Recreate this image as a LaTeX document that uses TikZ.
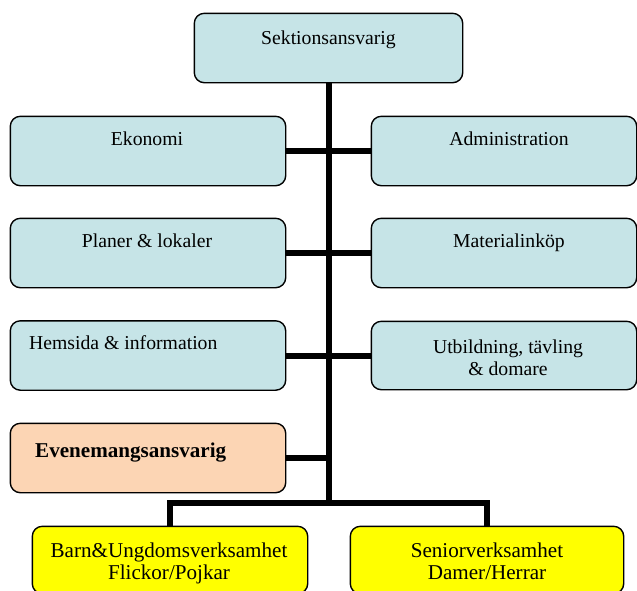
\documentclass[tikz,border=0pt]{standalone}
\usepackage{fontspec}
\setmainfont{Liberation Serif}
\definecolor{boxblue}{RGB}{198,228,231}
\definecolor{peach}{RGB}{252,213,180}
\definecolor{yel}{RGB}{255,255,0}
\begin{document}
\begin{tikzpicture}[x=1pt,y=-1pt,
  box/.style={draw=black,line width=1.4pt,rounded corners=10pt,inner sep=0pt,fill=boxblue},
  txt/.style={font=\fontsize{19.7}{23}\selectfont,inner sep=0pt,anchor=base},
  bigtxt/.style={txt,font=\fontsize{21.1}{25}\selectfont},
  conn/.style={draw=black,line width=6pt}]
\useasboundingbox (0,0) rectangle (637,590);
% boxes
\node[box,minimum width=267pt,minimum height=68pt] (sek) at (328.5,48) {};
\node[box,minimum width=274pt,minimum height=68pt] (ek) at (148,151) {};
\node[box,minimum width=264pt,minimum height=68pt] (adm) at (504,151) {};
\node[box,minimum width=274pt,minimum height=68pt] (pl) at (148,253) {};
\node[box,minimum width=264pt,minimum height=68pt] (mat) at (504,253) {};
\node[box,minimum width=274pt,minimum height=68pt] (hem) at (148,355.5) {};
\node[box,minimum width=264pt,minimum height=67pt] (utb) at (504,355.5) {};
\node[box,fill=peach,minimum width=274pt,minimum height=68pt] (eve) at (148,458) {};
\node[box,fill=yel,minimum width=274pt,minimum height=66pt] (barn) at (170,560) {};
\node[box,fill=yel,minimum width=272pt,minimum height=66pt] (sen) at (487,560) {};
\coordinate (tb) at (328.5,503);
% connectors
\draw[conn] (sek.south) -- (tb);
\draw[conn] (ek.east) -- (adm.west);
\draw[conn] (pl.east) -- (mat.west);
\draw[conn] (hem.east) -- (utb.west);
\draw[conn] (eve.east) -- (eve.east -| tb);
\draw[conn] (barn.north) |- (tb) -| (sen.north);
% redraw boxes over connector ends
\foreach \n in {sek,ek,adm,pl,mat,hem,utb}{
  \draw[line width=1.4pt,rounded corners=10pt,fill=boxblue] (\n.north west) rectangle (\n.south east);
}
\draw[line width=1.4pt,rounded corners=10pt,fill=peach] (eve.north west) rectangle (eve.south east);
\draw[line width=1.4pt,rounded corners=10pt,fill=yel] (barn.north west) rectangle (barn.south east);
\draw[line width=1.4pt,rounded corners=10pt,fill=yel] (sen.north west) rectangle (sen.south east);
% texts
\node[txt] (tsek) at (328.5,44) {Sektionsansvarig};
\node[txt] (tek) at (147,145) {Ekonomi};
\node[txt] (tadm) at (509,145) {Administration};
\node[txt] (tpl) at (147,247) {Planer \& lokaler};
\node[txt] (tmat) at (509,247) {Materialinköp};
\node[txt,anchor=base west] (them) at (29,349) {Hemsida \& information};
\node[txt] (tutb1) at (508,353) {Utbildning, tävling};
\node[txt] (tutb2) at (508,375) {\& domare};
\node[bigtxt,anchor=base west,font=\fontsize{21.1}{25}\selectfont\bfseries] (teve) at (35,457) {Evenemangsansvarig};
\node[bigtxt] (tbarn1) at (169,557) {Barn\&Ungdomsverksamhet};
\node[bigtxt] (tbarn2) at (169,579) {Flickor/Pojkar};
\node[bigtxt] (tsen1) at (487,557) {Seniorverksamhet};
\node[bigtxt] (tsen2) at (487,579) {Damer/Herrar};
\end{tikzpicture}
\end{document}
